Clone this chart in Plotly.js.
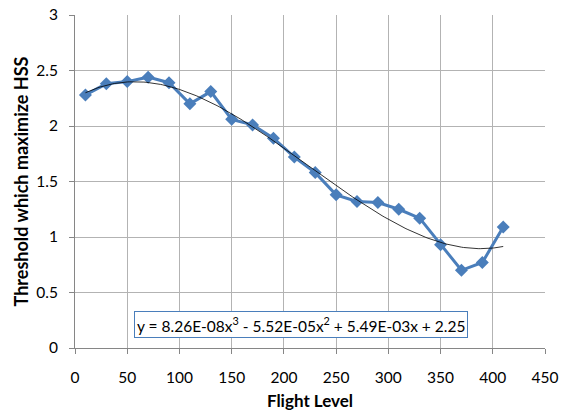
<!DOCTYPE html>
<html>
<head>
<meta charset="utf-8">
<script src="https://cdn.plot.ly/plotly-3.0.1.min.js"></script>
<style>html,body{margin:0;padding:0;background:#fff;}#chart{width:562px;height:416px;}</style>
</head>
<body>
<div id="chart"></div>
<script>
const flightLevel = [10, 30, 50, 70, 90, 110, 130, 150, 170, 190, 210, 230, 250, 270, 290, 310, 330, 350, 370, 390, 410];
const threshold = [2.28, 2.38, 2.40, 2.44, 2.39, 2.20, 2.31, 2.06, 2.01, 1.89, 1.72, 1.58, 1.38, 1.32, 1.31, 1.25, 1.17, 0.93, 0.70, 0.77, 1.09];
// Cubic trendline coefficients as printed on the chart (a3, a2, a1, a0)
const trendCoef = [8.26e-08, -5.52e-05, 5.49e-03, 2.25];
const trendLabel = 'y = 8.26E-08x<sup>3</sup> - 5.52E-05x<sup>2</sup> + 5.49E-03x + 2.25';
const xTicks = [0, 50, 100, 150, 200, 250, 300, 350, 400, 450];
const yTicks = [0, 0.5, 1, 1.5, 2, 2.5, 3];

const xMin = flightLevel[0], xMax = flightLevel[flightLevel.length - 1];
const trendX = [], trendY = [];
for (let i = 0; i <= 200; i++) {
  const x = xMin + (xMax - xMin) * i / 200;
  trendX.push(x);
  trendY.push(((trendCoef[0] * x + trendCoef[1]) * x + trendCoef[2]) * x + trendCoef[3]);
}

const data = [
  {x: flightLevel, y: threshold, type: 'scatter', mode: 'lines+markers',
   line: {color: '#4A7EBB', width: 3},
   marker: {symbol: 'diamond', size: 10, color: '#4A7EBB'}, hoverinfo: 'x+y'},
  {x: trendX, y: trendY, type: 'scatter', mode: 'lines',
   line: {color: '#000000', width: 0.8}, hoverinfo: 'skip'}
];

const font = 'Lato, "Open Sans", sans-serif';
const layout = {
  width: 562, height: 416,
  margin: {l: 75, r: 17, t: 15, b: 68},
  paper_bgcolor: '#ffffff', plot_bgcolor: '#ffffff',
  showlegend: false,
  font: {family: font, size: 15, color: '#000'},
  xaxis: {
    range: [0, 450], tickvals: xTicks, ticktext: xTicks.map(String),
    showgrid: true, gridcolor: '#B3B3B3', gridwidth: 1,
    zeroline: false, showline: true, linecolor: '#868686', linewidth: 1,
    ticks: 'outside', ticklen: 5, tickcolor: '#868686',
    ticklabelstandoff: 10,
    tickfont: {family: font, size: 15.5},
    title: {text: '<b>Flight Level</b>', font: {family: font, size: 17}, standoff: 10}
  },
  yaxis: {
    range: [0, 3], tickvals: yTicks, ticktext: yTicks.map(String),
    showgrid: true, gridcolor: '#B3B3B3', gridwidth: 1,
    zeroline: false, showline: true, linecolor: '#868686', linewidth: 1,
    ticks: 'outside', ticklen: 5, tickcolor: '#868686',
    ticklabelstandoff: 8,
    tickfont: {family: font, size: 15.5},
    title: {text: '<b>Threshold which maximize HSS</b>', font: {family: font, size: 18}, standoff: 2}
  },
  annotations: [{
    xref: 'paper', yref: 'paper', x: 0.481, y: 0.071, xanchor: 'center', yanchor: 'middle',
    text: trendLabel, showarrow: false,
    font: {family: font, size: 15.5, color: '#000'},
    bgcolor: '#ffffff', bordercolor: '#4A7EBB', borderwidth: 1, borderpad: 2
  }]
};

Plotly.newPlot('chart', data, layout, {displayModeBar: false, staticPlot: true});
</script>
</body>
</html>
